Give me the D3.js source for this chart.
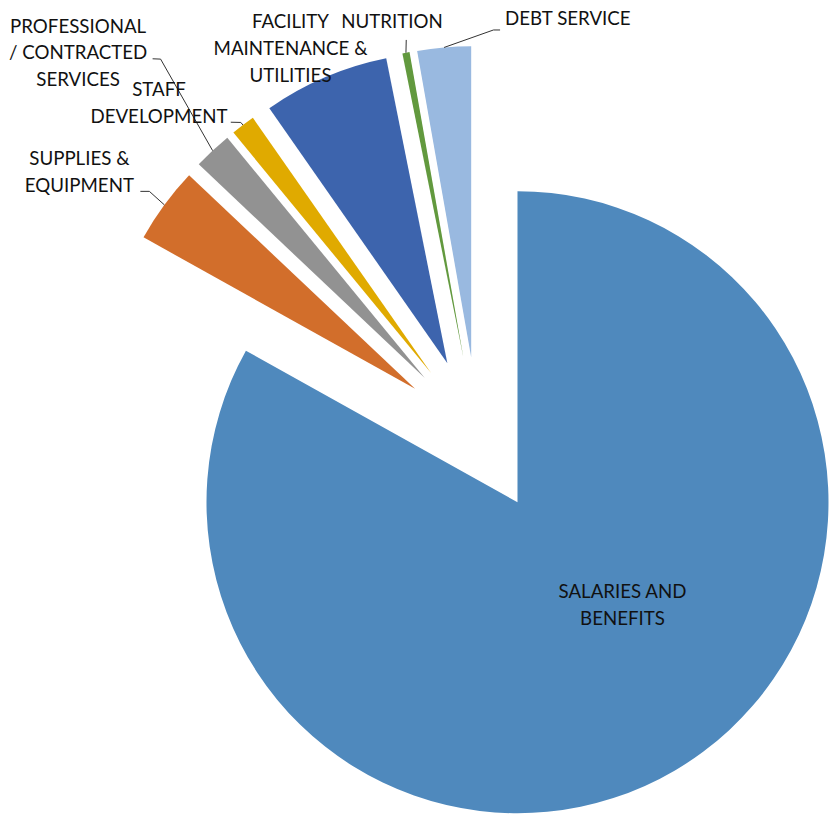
<!DOCTYPE html>
<html>
<head>
<meta charset="utf-8">
<script src="https://cdn.jsdelivr.net/npm/d3@7"></script>
<style>
  body { margin: 0; background: #fff; }
  text { font-family: Lato, "Noto Sans", sans-serif; fill: #111; }
</style>
</head>
<body>
<div class="chart-container"></div>
<script>
const WIDTH = 831;
const HEIGHT = 816;

// data (share of budget, %)
const categories = ["SALARIES AND BENEFITS", "SUPPLIES & EQUIPMENT", "PROFESSIONAL / CONTRACTED SERVICES",
  "STAFF DEVELOPMENT", "FACILITY MAINTENANCE & UTILITIES", "NUTRITION", "DEBT SERVICE"];
const values = [83.1, 3.95, 2.0, 1.25, 6.55, 0.37, 2.78];
const labelLines = [
  ["SALARIES AND", "BENEFITS"],
  ["SUPPLIES &", "EQUIPMENT"],
  ["PROFESSIONAL", "/ CONTRACTED", "SERVICES"],
  ["STAFF", "DEVELOPMENT"],
  ["FACILITY", "MAINTENANCE &", "UTILITIES"],
  ["NUTRITION"],
  ["DEBT SERVICE"]
];
const colors = ["#4F89BD", "#D26E2B", "#929292", "#E0AA00", "#3D64AD", "#62993E", "#99B9E0"];

// layout of the pie
const cx = 478, cy = 435;
const radius = 311;
const explode = 78;
const fontSize = 18.7;
const lineHeight = 26.7;

// label placement relative to the slice's outer midpoint (or apex for inside labels)
const labelLayout = [
  { ref: "apex", dx: 105, dy: 96, anchor: "middle" },
  { ref: "outer", dx: -85, dy: -40, anchor: "middle", leader: [[-15, -13.5], [-24, -13.5]] },
  { ref: "outer", dx: -134.5, dy: -118, anchor: "middle", leader: [[-52, -91.5], [-60, -91.8]] },
  { ref: "outer", dx: -84, dy: -29, anchor: "middle", leader: [[-2.2, -2.6], [-12.2, -2.8]] },
  { ref: "outer", dx: -34.7, dy: -49, anchor: "middle" },
  { ref: "outer", dx: -14, dy: -24.5, anchor: "middle", leader: [[0.3, -12.8]] },
  { ref: "outer", dx: 61, dy: -22.5, anchor: "start", leader: [[49.4, -17.5], [56, -17.5]] }
];

const svg = d3.select(".chart-container")
  .append("svg")
  .attr("width", WIDTH)
  .attr("height", HEIGHT);

const pie = d3.pie().sort(null).value((d, i) => values[i]);
const arcs = pie(categories);

const arc = d3.arc().innerRadius(0).outerRadius(radius);

const midAngle = (d) => (d.startAngle + d.endAngle) / 2;
const offsetOf = (d, dist) => [dist * Math.sin(midAngle(d)), -dist * Math.cos(midAngle(d))];

const slices = svg.append("g")
  .attr("transform", `translate(${cx},${cy})`)
  .selectAll("path")
  .data(arcs)
  .join("path")
  .attr("d", arc)
  .attr("fill", (d, i) => colors[i])
  .attr("transform", (d) => {
    const [ox, oy] = offsetOf(d, explode);
    return `translate(${ox},${oy})`;
  });

const labels = svg.append("g").attr("transform", `translate(${cx},${cy})`);

arcs.forEach((d, i) => {
  const lay = labelLayout[i];
  const [px, py] = lay.ref === "apex" ? offsetOf(d, explode) : offsetOf(d, explode + radius);

  if (lay.leader) {
    const pts = [[px, py]].concat(lay.leader.map(([lx, ly]) => [px + lx, py + ly]));
    labels.append("path")
      .attr("d", d3.line()(pts))
      .attr("fill", "none")
      .attr("stroke", "#333")
      .attr("stroke-width", 1);
  }

  const t = labels.append("text")
    .attr("text-anchor", lay.anchor)
    .attr("font-size", fontSize + "px");
  labelLines[i].forEach((line, j) => {
    t.append("tspan")
      .attr("x", px + lay.dx)
      .attr("y", py + lay.dy + j * lineHeight)
      .text(line);
  });
});
</script>
</body>
</html>
